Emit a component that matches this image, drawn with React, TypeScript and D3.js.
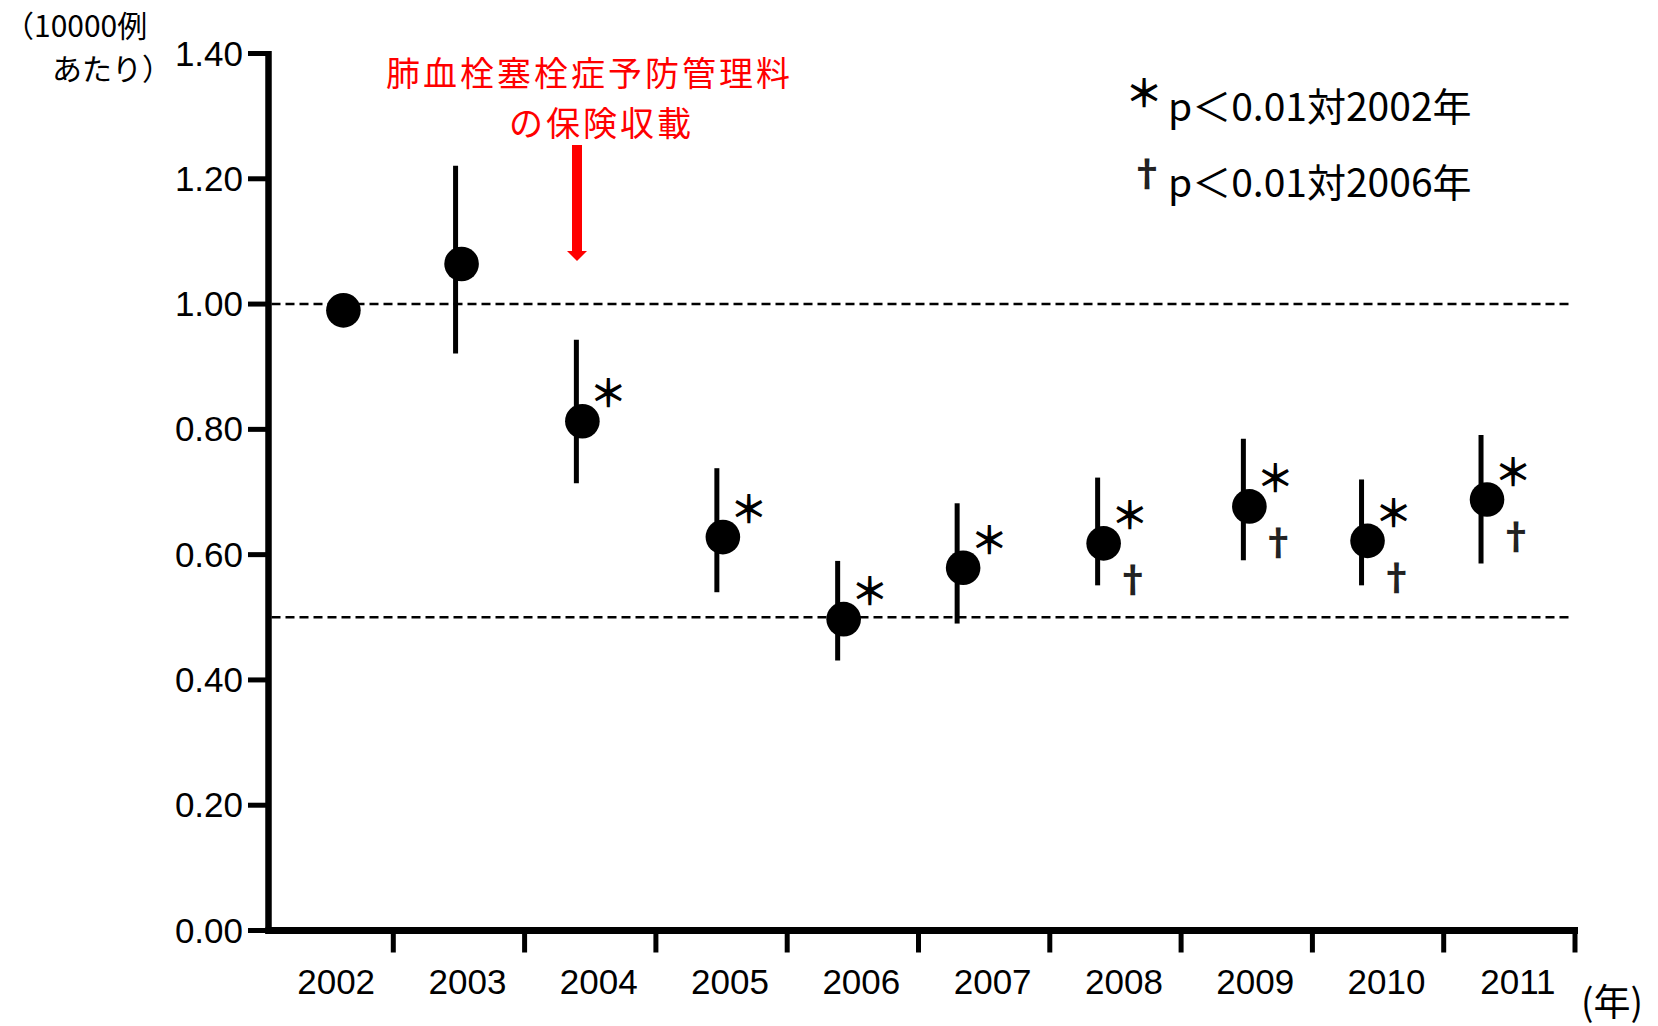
import React from 'react';
import * as d3 from 'd3';

// Incidence per 10,000 cases, by year, with 95% confidence intervals
const years = ['2002', '2003', '2004', '2005', '2006', '2007', '2008', '2009', '2010', '2011'];
const rate = [0.99, 1.064, 0.813, 0.628, 0.497, 0.579, 0.618, 0.677, 0.622, 0.688];
const ciLow: (number | null)[] = [null, 0.921, 0.714, 0.54, 0.431, 0.49, 0.551, 0.591, 0.551, 0.586];
const ciHigh: (number | null)[] = [null, 1.221, 0.943, 0.738, 0.59, 0.682, 0.723, 0.785, 0.72, 0.791];
// significance flags: p<0.01 vs 2002 (*) and vs 2006 (†)
const sigVs2002 = [false, false, true, true, true, true, true, true, true, true];
const sigVs2006 = [false, false, false, false, false, false, true, true, true, true];
const yTicks = [0, 0.2, 0.4, 0.6, 0.8, 1.0, 1.2, 1.4];
const refLines = [1.0, 0.5];

// horizontal placement of each marker inside its year band (fraction of band width)
const bandPos = [0.62, 0.52, 0.44, 0.51, 0.43, 0.34, 0.41, 0.52, 0.42, 0.33];

const W = 1658;
const H = 1026;
const JP = '"Noto Sans CJK JP", "Noto Sans", sans-serif';
const NUM = '"Liberation Sans", Arial, sans-serif';

export default function App() {
  const y = d3.scaleLinear().domain([0, 1.4]).range([930.5, 53.5]);
  const x = d3.scaleBand<string>().domain(years).range([262, 1575]);
  const bw = x.bandwidth();
  const axisX = 268.5;
  const axisY = y(0);

  const pts = years.map((yr, i) => ({
    yr,
    cx: (x(yr) as number) + bandPos[i] * bw,
    cy: y(rate[i]),
    lo: ciLow[i],
    hi: ciHigh[i],
    s1: sigVs2002[i],
    s2: sigVs2006[i],
  }));

  return (
    <svg
      width={W}
      height={H}
      viewBox={`0 0 ${W} ${H}`}
      style={{ position: 'absolute', left: 0, top: 0, background: '#fff' }}
    >
      <rect x={0} y={0} width={W} height={H} fill="#fff" />

      {/* reference lines */}
      {refLines.map((v) => (
        <line
          key={v}
          x1={axisX + 3}
          x2={1573}
          y1={y(v)}
          y2={y(v)}
          stroke="#000"
          strokeWidth={2.5}
          strokeDasharray="9 5"
        />
      ))}

      {/* y axis */}
      <line x1={axisX} x2={axisX} y1={y(1.4) - 2.5} y2={axisY + 3.5} stroke="#000" strokeWidth={6.5} />
      {yTicks.map((t) => (
        <g key={t}>
          <line x1={248} x2={axisX} y1={y(t)} y2={y(t)} stroke="#000" strokeWidth={5} />
          <text
            x={243}
            y={y(t) + 12}
            textAnchor="end"
            fontFamily={NUM}
            fontSize={35}
            fill="#000"
          >
            {d3.format('.2f')(t)}
          </text>
        </g>
      ))}

      {/* x axis */}
      <line x1={axisX - 3} x2={1578} y1={axisY} y2={axisY} stroke="#000" strokeWidth={7} />
      {years.map((yr) => {
        const right = (x(yr) as number) + bw;
        return (
          <g key={yr}>
            <line x1={right} x2={right} y1={axisY} y2={axisY + 22} stroke="#000" strokeWidth={5} />
            <text
              x={(x(yr) as number) + bw / 2 + 8.5}
              y={994}
              textAnchor="middle"
              fontFamily={NUM}
              fontSize={35}
              fill="#000"
            >
              {yr}
            </text>
          </g>
        );
      })}

      {/* error bars and points */}
      {pts.map((p) => (
        <g key={p.yr}>
          {p.lo !== null && p.hi !== null && (
            <line
              x1={p.cx - 6}
              x2={p.cx - 6}
              y1={y(p.hi)}
              y2={y(p.lo)}
              stroke="#000"
              strokeWidth={5}
            />
          )}
          <circle cx={p.cx} cy={p.cy} r={17.3} fill="#000" />
          {p.s1 && (
            <text
              x={p.cx + 26}
              y={p.cy - 14}
              textAnchor="middle"
              fontFamily={JP}
              fontWeight={700}
              fontSize={38}
              fill="#000"
            >
              ＊
            </text>
          )}
          {p.s2 && (
            <text
              x={p.cx + 29}
              y={p.cy + 50}
              textAnchor="middle"
              fontFamily={JP}
              fontWeight={700}
              fontSize={36}
              fill="#222"
            >
              †
            </text>
          )}
        </g>
      ))}

      {/* unit label */}
      <text x={4} y={37} fontFamily={JP} fontSize={30} fill="#000">
        （10000例
      </text>
      <text x={52} y={80} fontFamily={JP} fontSize={30} fill="#000">
        あたり）
      </text>

      {/* annotation */}
      <text
        x={589.5}
        y={86}
        textAnchor="middle"
        fontFamily={JP}
        fontSize={34}
        letterSpacing={3}
        fill="#ff0000"
      >
        肺血栓塞栓症予防管理料
      </text>
      <text
        x={601.5}
        y={136}
        textAnchor="middle"
        fontFamily={JP}
        fontSize={34}
        letterSpacing={3}
        fill="#ff0000"
      >
        の保険収載
      </text>
      <rect x={572} y={145} width={10} height={107} fill="#ff0000" />
      <path d="M567,251 L587,251 L577,261 Z" fill="#ff0000" />

      {/* legend */}
      <text x={1144} y={107} textAnchor="middle" fontFamily={JP} fontWeight={700} fontSize={38} fill="#000">
        ＊
      </text>
      <text x={1168} y={121} fontFamily={JP} fontSize={39} fill="#000">
        p＜0.01対2002年
      </text>
      <text x={1147} y={187} textAnchor="middle" fontFamily={JP} fontWeight={700} fontSize={36} fill="#222">
        †
      </text>
      <text x={1168} y={197} fontFamily={JP} fontSize={39} fill="#000">
        p＜0.01対2006年
      </text>

      {/* x unit */}
      <text x={1581} y={1016} fontFamily={JP} fontSize={37} fill="#000">
        (年)
      </text>
    </svg>
  );
}
